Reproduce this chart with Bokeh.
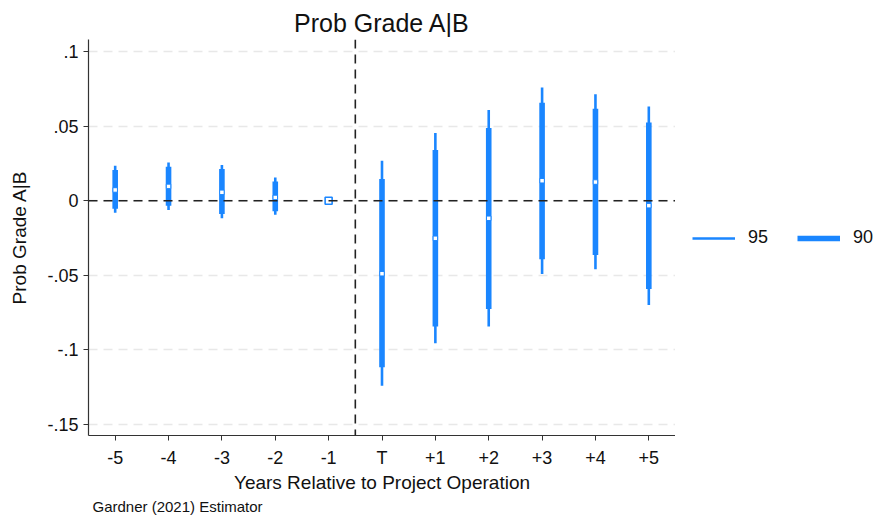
from bokeh.plotting import figure
from bokeh.layouts import row
from bokeh.models import (ColumnDataSource, Range1d, FixedTicker, Span, Legend,
                          LegendItem, Title)
from bokeh.embed import file_html
from bokeh.resources import INLINE

# Event-study estimates (Gardner 2021 two-stage DiD)
periods = ["-5", "-4", "-3", "-2", "-1", "T", "+1", "+2", "+3", "+4", "+5"]
estimate = [0.0072, 0.0096, 0.0056, 0.0022, 0.0, -0.0489, -0.0252, -0.0118, 0.0134, 0.0125, -0.0033]
lo95 = [-0.0080, -0.0062, -0.0118, -0.0094, 0.0, -0.1240, -0.0955, -0.0843, -0.0491, -0.0460, -0.0698]
hi95 = [0.0234, 0.0256, 0.0239, 0.0156, 0.0, 0.0268, 0.0453, 0.0607, 0.0758, 0.0714, 0.0631]
lo90 = [-0.0054, -0.0033, -0.0089, -0.0071, 0.0, -0.1116, -0.0843, -0.0725, -0.0393, -0.0364, -0.0591]
hi90 = [0.0205, 0.0228, 0.0212, 0.0129, 0.0, 0.0145, 0.0339, 0.0487, 0.0656, 0.0616, 0.0524]
ref_period = "-1"
ci_labels = ["95", "90"]

y_ticks = [0.1, 0.05, 0.0, -0.05, -0.1, -0.15]
y_tick_labels = [".1", ".05", "0", "-.05", "-.1", "-.15"]

BLUE = "#1a86ff"
FONT = "Liberation Sans"
THIN, THICK = 2.6, 5.6

xs = list(range(len(periods)))
ref_i = periods.index(ref_period)
keep = [i for i in xs if i != ref_i]

est_src = ColumnDataSource(dict(
    x=[xs[i] for i in keep],
    est=[estimate[i] for i in keep],
    lo95=[lo95[i] for i in keep], hi95=[hi95[i] for i in keep],
    lo90=[lo90[i] for i in keep], hi90=[hi90[i] for i in keep],
))
ref_src = ColumnDataSource(dict(x=[xs[ref_i]], est=[estimate[ref_i]]))

p = figure(width=675, height=521, output_backend="svg", toolbar_location=None,
           x_range=Range1d(-0.5, len(periods) - 0.5),
           y_range=Range1d(-0.1573, 0.108),
           min_border_left=88, min_border_right=0,
           min_border_top=39, min_border_bottom=86)
p.outline_line_color = None
p.background_fill_color = "white"
p.border_fill_color = "white"

# title
p.title.text = "Prob Grade A|B"
p.title.align = "center"
p.title.text_font = FONT
p.title.text_font_size = "25px"
p.title.text_font_style = "normal"
p.title.text_color = "#111111"
p.title.standoff = 6

# grid
p.xgrid.visible = False
p.ygrid.ticker = FixedTicker(ticks=y_ticks)
p.ygrid.grid_line_color = "#e8e8e8"
p.ygrid.grid_line_dash = "9 6"
p.ygrid.grid_line_width = 1.4

# axes
p.xaxis.ticker = FixedTicker(ticks=xs)
p.xaxis.major_label_overrides = {i: lab for i, lab in enumerate(periods)}
p.yaxis.ticker = FixedTicker(ticks=y_ticks)
p.yaxis.major_label_overrides = {t: lab for t, lab in zip(y_ticks, y_tick_labels)}
for ax in (p.xaxis, p.yaxis):
    ax.minor_tick_line_color = None
    ax.major_tick_out = 5
    ax.major_tick_in = 0
    ax.axis_line_color = "#333333"
    ax.major_tick_line_color = "#333333"
    ax.axis_line_width = 1.2
    ax.major_label_text_font = FONT
    ax.major_label_text_font_size = "18px"
    ax.major_label_text_color = "#111111"
    ax.axis_label_text_font = FONT
    ax.axis_label_text_font_size = "19px"
    ax.axis_label_text_font_style = "normal"
    ax.axis_label_text_color = "#111111"
p.xaxis.axis_label = "Years Relative to Project Operation"
p.yaxis.axis_label = "Prob Grade A|B"
p.xaxis.major_label_standoff = 7
p.xaxis.axis_label_standoff = 1
p.yaxis.major_label_standoff = 5
p.yaxis.axis_label_standoff = 14

# reference lines
p.add_layout(Span(location=0, dimension="width", line_color="#222222",
                  line_dash="9 6", line_width=1.6))
p.add_layout(Span(location=ref_i + 0.5, dimension="height", line_color="#222222",
                  line_dash="9 6", line_width=1.6))

# confidence intervals and point estimates
p.segment(x0="x", y0="lo95", x1="x", y1="hi95", source=est_src,
          line_color=BLUE, line_width=THIN)
p.segment(x0="x", y0="lo90", x1="x", y1="hi90", source=est_src,
          line_color=BLUE, line_width=THICK)
p.scatter(x="x", y="est", source=est_src, marker="square", size=4.5,
          fill_color="white", line_color=BLUE, line_width=1)
p.scatter(x="x", y="est", source=ref_src, marker="square", size=7,
          fill_color="white", line_color=BLUE, line_width=1.6)

note = Title(text="Gardner (2021) Estimator", align="left", offset=4,
             text_font=FONT, text_font_size="15px", text_font_style="normal",
             text_color="#111111", standoff=0)
p.add_layout(note, "below")

# side panel holding the key for the interval widths
side = figure(width=200, height=521, output_backend="svg", toolbar_location=None,
              x_range=Range1d(0, 1), y_range=Range1d(0, 1),
              x_axis_location=None, y_axis_location=None,
              min_border=0)
side.outline_line_color = None
side.grid.visible = False
# key renderers sit outside the visible range; only their legend glyphs show
key95 = side.line(x=[5, 6], y=[5, 5], line_color=BLUE, line_width=THIN)
key90 = side.line(x=[5, 6], y=[5, 5], line_color=BLUE, line_width=THICK)
legend = Legend(items=[LegendItem(label=ci_labels[0], renderers=[key95]),
                       LegendItem(label=ci_labels[1], renderers=[key90])],
                orientation="horizontal", location=(17, 187),
                padding=0, margin=0, spacing=29,
                glyph_width=43, glyph_height=20, label_standoff=13,
                label_text_font=FONT, label_text_font_size="18px",
                label_text_color="#111111", label_height=20,
                border_line_color=None, background_fill_alpha=0)
side.add_layout(legend, "center")

layout = row(p, side)
open("out.html", "w").write(file_html(layout, INLINE))
